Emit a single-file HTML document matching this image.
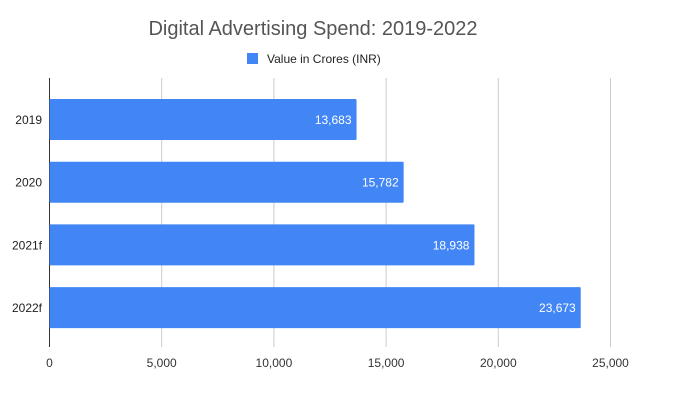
<!DOCTYPE html>
<html><head><meta charset="utf-8"><style>
body{margin:0;background:#fff;}
svg{display:block;font-family:"Liberation Sans",Arial,sans-serif;}
</style></head><body>
<svg width="700" height="415" viewBox="0 0 700 415">
<text x="313" y="35" text-anchor="middle" font-size="20" fill="#555">Digital Advertising Spend: 2019-2022</text>
<g>
<rect x="247" y="53" width="11" height="11" fill="#4285f4"/>
<text x="267" y="63" font-size="12" fill="#222">Value in Crores (INR)</text>
</g>
<g id="grid"></g>
<g id="bars"></g>
<g id="ticks"></g>
</svg>
<script>
const categories=["2019","2020","2021f","2022f"];
const values=[13683,15782,18938,23673];
const tickValues=[0,5000,10000,15000,20000,25000];
const x0=49.5,pxPer=112.2/5000;
const xs=v=>x0+v*pxPer;
const ys=i=>119.5+i*62.7;
const ns="http://www.w3.org/2000/svg";
function mk(t,a,p){const e=document.createElementNS(ns,t);for(const k in a)e.setAttribute(k,a[k]);p.appendChild(e);return e;}
const grid=document.getElementById('grid'),bars=document.getElementById('bars'),ticks=document.getElementById('ticks');
tickValues.forEach(v=>{
 const l=mk('line',{x1:xs(v),x2:xs(v),y1:78,y2:347,stroke:v===0?'#333':'#ccc','stroke-width':1},grid);
 
 
 const t=mk('text',{x:xs(v),y:367,'text-anchor':'middle','font-size':12,fill:'#333'},ticks);
 t.textContent=v.toLocaleString('en-US');
 
 
});
categories.forEach((c,i)=>{
 const cy=ys(i);
 const r=mk('rect',{x:x0,y:cy-20.5,width:xs(values[i])-x0,height:41,fill:'#4285f4',rx:1},bars);
 
 
 const vl=mk('text',{x:xs(values[i])-5,y:cy+4.5,'text-anchor':'end','font-size':12,fill:'#fff'},bars);
 vl.textContent=values[i].toLocaleString('en-US');
 
 
 const cl=mk('text',{x:42,y:cy+4.5,'text-anchor':'end','font-size':12,fill:'#222'},ticks);
 cl.textContent=c;
 
 
});
</script>
</body></html>
